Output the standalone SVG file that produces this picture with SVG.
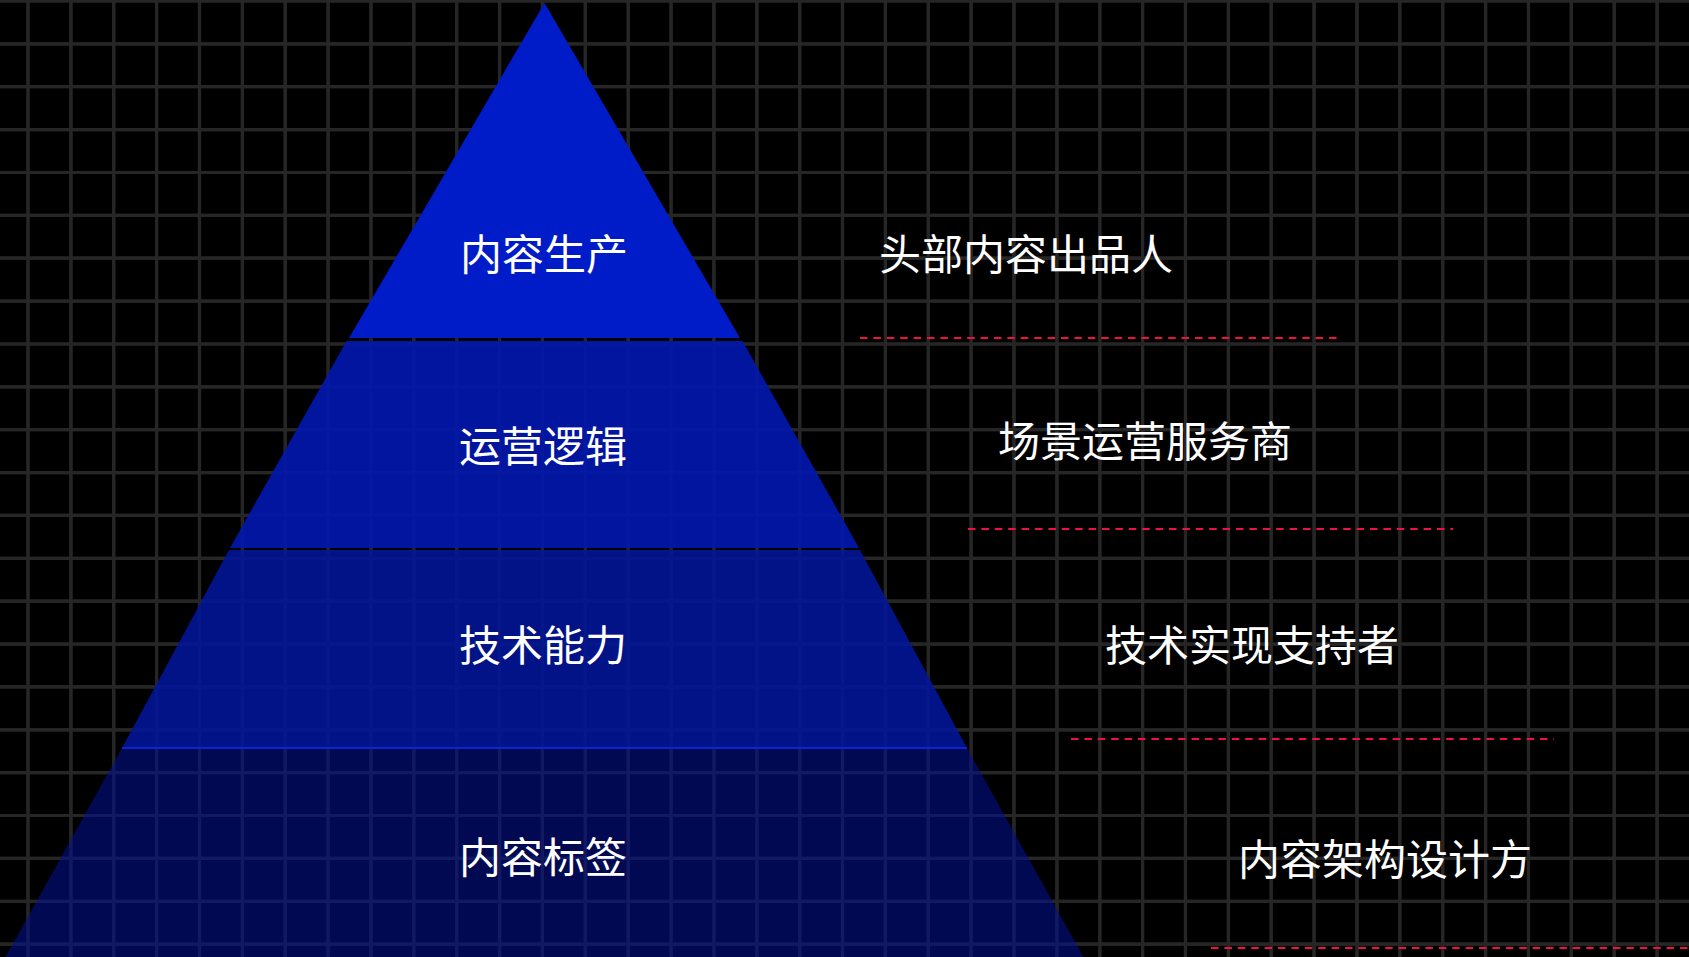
<svg xmlns="http://www.w3.org/2000/svg" width="1689" height="957" viewBox="0 0 1689 957">
<style>
.gridw{fill:none;stroke:#262626;stroke-width:3.2}
.gridn{fill:none;stroke:#646464;stroke-width:1.3}
.lbl{font-family:"Noto Sans CJK SC","Noto Sans",sans-serif;font-size:42px;fill:#ffffff;text-anchor:middle}
.dash{fill:none;stroke:#ee1144;stroke-width:2;stroke-dasharray:7.5 5.9}
</style>
<rect x="0" y="0" width="1689" height="957" fill="#000000"/>
<g id="grid">
<path id="gridpath" class="gridw" d="M28 0V957M70.9 0V957M113.7 0V957M156.6 0V957M199.5 0V957M242.4 0V957M285.2 0V957M328.1 0V957M371 0V957M413.8 0V957M456.7 0V957M499.6 0V957M542.4 0V957M585.3 0V957M628.2 0V957M671.1 0V957M713.9 0V957M756.8 0V957M799.7 0V957M842.5 0V957M885.4 0V957M928.3 0V957M971.1 0V957M1014 0V957M1056.9 0V957M1099.8 0V957M1142.6 0V957M1185.5 0V957M1228.4 0V957M1271.2 0V957M1314.1 0V957M1357 0V957M1399.8 0V957M1442.7 0V957M1485.6 0V957M1528.5 0V957M1571.3 0V957M1614.2 0V957M1657.1 0V957M0 1H1689M0 43.9H1689M0 86.7H1689M0 129.6H1689M0 172.5H1689M0 215.4H1689M0 258.2H1689M0 301.1H1689M0 344H1689M0 386.8H1689M0 429.7H1689M0 472.6H1689M0 515.4H1689M0 558.3H1689M0 601.2H1689M0 644.1H1689M0 686.9H1689M0 729.8H1689M0 772.7H1689M0 815.5H1689M0 858.4H1689M0 901.3H1689M0 944.1H1689"/>
<use href="#gridpath" class="gridn"/>
</g>
<g id="pyramid">
<g id="node-content-production">
<polygon points="544.5,3 740,338 349,338" fill="#001bc8"/>
<text class="lbl" x="544" y="270">内容生产</text>
</g>
<g id="node-operation-logic">
<polygon points="346.5,341 742.5,341 859,548 230,548" fill="#0217ad" fill-opacity="0.92"/>
<text class="lbl" x="543" y="462">运营逻辑</text>
</g>
<g id="node-tech-capability">
<polygon points="229,550 860,550 967,748 122,748" fill="#02169a" fill-opacity="0.88"/>
<text class="lbl" x="543" y="661">技术能力</text>
</g>
<g id="node-content-tags">
<polygon points="122,748 967,748 1083.5,957 5.5,957" fill="#00108c" fill-opacity="0.58"/>
<line x1="122" y1="748" x2="967" y2="748" stroke="#0a24d2" stroke-width="2"/>
<text class="lbl" x="543" y="873">内容标签</text>
</g>
</g>
<g id="roles">
<g id="role-1"><text class="lbl" x="1026" y="270">头部内容出品人</text></g>
<g id="role-2"><text class="lbl" x="1145" y="457">场景运营服务商</text></g>
<g id="role-3"><text class="lbl" x="1252" y="661">技术实现支持者</text></g>
<g id="role-4"><text class="lbl" x="1385" y="875">内容架构设计方</text></g>
</g>
<g id="connectors">
<line class="dash" x1="860" y1="338" x2="1339" y2="338"/>
<line class="dash" x1="968" y1="529" x2="1453" y2="529"/>
<line class="dash" x1="1071" y1="739" x2="1554" y2="739"/>
<line class="dash" x1="1211" y1="948" x2="1689" y2="948"/>
</g>
</svg>
